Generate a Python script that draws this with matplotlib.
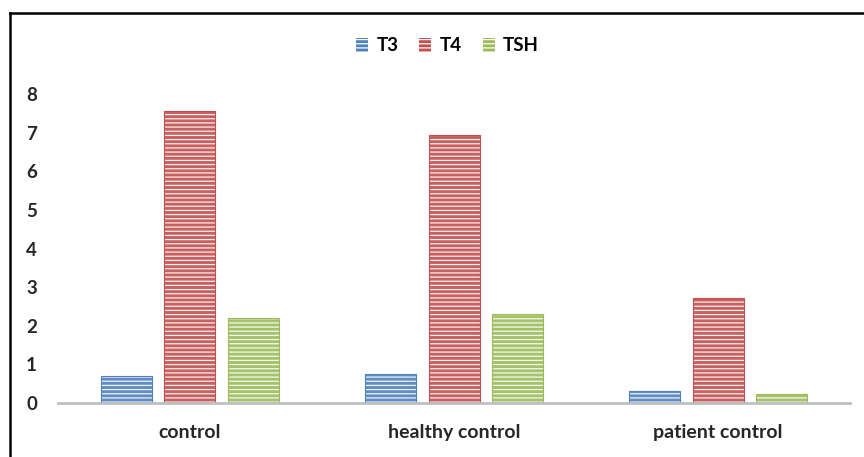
import matplotlib
matplotlib.use('Agg')
from matplotlib import pyplot as plt
from matplotlib.patches import Patch
from matplotlib.lines import Line2D
import numpy as np

categories = ['control', 'healthy control', 'patient control']
series_names = ['T3', 'T4', 'TSH']
t3 = [0.70, 0.75, 0.31]
t4 = [7.56, 6.94, 2.72]
tsh = [2.20, 2.30, 0.23]
colors = ['#4f81bd', '#c0504d', '#9bbb59']

plt.rcParams['font.family'] = ['Lato', 'DejaVu Sans']
plt.rcParams['hatch.linewidth'] = 0.9

fig = plt.figure(figsize=(8.64, 4.57), dpi=100)
ax = fig.add_axes([0.067, 0.118, 0.917, 0.676])

x = np.arange(len(categories))
width = 0.193
step = 0.24
for i, (vals, col) in enumerate(zip([t3, t4, tsh], colors)):
    pos = x + (i - 1) * step
    ax.bar(pos, vals, width, color=col, edgecolor='#ffffff', hatch='----',
           linewidth=0, alpha=0.9)
    ax.bar(pos, vals, width, fill=False, edgecolor=col, linewidth=0.8)

ax.set_xlim(-0.5, 2.5)
ax.set_ylim(0, 8)
ax.set_yticks(range(0, 9))
ax.set_xticks(x)
ax.set_xticklabels(categories, fontsize=14, fontweight='bold', color='#262626')
for lab in ax.get_xticklabels():
    lab.set_fontstretch('expanded')
for lab in ax.get_yticklabels():
    lab.set_fontsize(13.5)
    lab.set_fontweight('bold')
    lab.set_color('#262626')
ax.tick_params(axis='both', length=0)
ax.tick_params(axis='y', pad=15)
ax.tick_params(axis='x', pad=15)
for side in ['top', 'right', 'left']:
    ax.spines[side].set_visible(False)
ax.spines['bottom'].set_color('#bfbfbf')
ax.spines['bottom'].set_linewidth(2)
ax.spines['bottom'].set_zorder(5)

handles = [Patch(facecolor=c, edgecolor='#ffffff', hatch='----', linewidth=0)
           for c in colors]
fig.legend(handles, series_names, loc='center', bbox_to_anchor=(0.518, 0.900),
           ncol=3, frameon=False, handlelength=0.65, handleheight=0.8,
           handletextpad=0.45, columnspacing=1.1,
           prop={'size': 13.5, 'weight': 'bold'})

# outer frame (top and left edges visible in original)
fig.add_artist(Line2D([10 / 864, 1.0], [1 - 13 / 457, 1 - 13 / 457],
                      transform=fig.transFigure, color='black', linewidth=1.8))
fig.add_artist(Line2D([10 / 864, 10 / 864], [0, 1 - 13 / 457],
                      transform=fig.transFigure, color='black', linewidth=1.8))

plt.savefig('out.png', dpi=100)
plt.close()
